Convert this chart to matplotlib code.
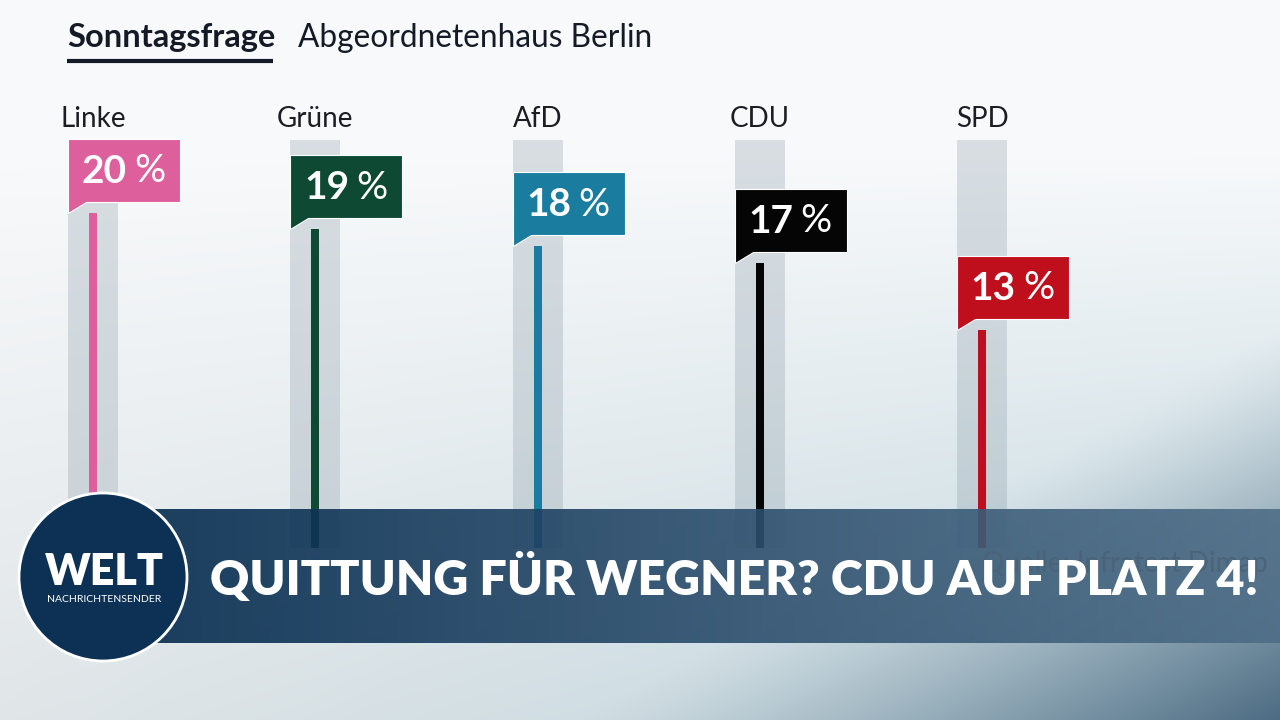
import numpy as np
import matplotlib
matplotlib.use('Agg')
import matplotlib.pyplot as plt
from matplotlib.patches import Polygon, Circle

# Data #
parties = ['Linke', 'Grüne', 'AfD', 'CDU', 'SPD']
values = [20, 19, 18, 17, 13]
colors = ['#dd5f9c', '#0e4a33', '#1a7d9f', '#050505', '#c00f1c']
track_max = 24.3  # height of the grey background tracks (in %).
title_left = 'Sonntagsfrage'
title_right = 'Abgeordnetenhaus Berlin'
headline = 'QUITTUNG FÜR WEGNER? CDU AUF PLATZ 4!'
source = 'Quelle: Infratest Dimap'

W, H = 1280, 720
FONT = 'Lato'

fig = plt.figure(figsize=(W / 100, H / 100), dpi=100)

# Background gradient #
bg = fig.add_axes([0, 0, 1, 1], zorder=0)
bg.set_axis_off()
yy, xx = np.mgrid[0:H, 0:W]
t = yy / H
s = xx / W
f = np.clip((t - 0.2) / 0.8, 0, 1)[..., None]
top_c = np.array([0.975, 0.98, 0.985])
bot_l = np.array([0.88, 0.90, 0.91])
bot_r = np.array([0.74, 0.83, 0.86])
bot_c = bot_l * (1 - s[..., None]) + bot_r * s[..., None]
img = top_c * (1 - f) + bot_c * f
d = (np.clip((s + t - 1.45) / 0.55, 0, 1) ** 1.3)[..., None]
dark_c = np.array([0.30, 0.42, 0.51])
img = img * (1 - d) + dark_c * d
bg.imshow(img, extent=(0, W, H, 0), aspect='auto', interpolation='bilinear')
bg.set_xlim(0, W)
bg.set_ylim(H, 0)

# Chart axes: 0 % at pixel row 548, 16.77 px per percent, columns 222.25 px apart from x=93 #
ax = fig.add_axes([0, 0, 1, 1], zorder=1)
ax.set_axis_off()
px_per_pt = 16.77
col_step = 222.25
ax.set_ylim(-(H - 548) / px_per_pt, 548 / px_per_pt)
ax.set_xlim(-93 / col_step, (W - 93) / col_step)
ax.patch.set_alpha(0)

x = np.arange(len(parties))
ax.bar(x, [track_max] * len(parties), width=50 / col_step, color='#8496a3', alpha=0.28, zorder=1)
ax.bar(x, values, width=8 / col_step, color=colors, zorder=2)

dx = 1 / col_step  # one pixel in x data units
dy = 1 / px_per_pt  # one pixel in y data units
for i, (name, v, c) in enumerate(zip(parties, values, colors)):
    ax.text(i, track_max + 21 * dy, name, ha='center', va='center', fontsize=20,
            family=FONT, color='#1b1f24', zorder=5)
    left = i - 25 * dx
    right = left + 112 * dx
    bottom = v + 11 * dy
    top = bottom + 63 * dy
    box = Polygon([(left, v), (left, top), (right, top), (right, bottom), (left + 18 * dx, bottom)],
                  closed=True, facecolor=c, edgecolor='white', linewidth=0.8, zorder=4)
    ax.add_patch(box)
    mid_x = (left + right) / 2
    mid_y = (bottom + top) / 2 - 1 * dy
    ax.text(mid_x + 3 * dx, mid_y, '%d' % v, ha='right', va='center',
            fontsize=28, fontweight='bold', family=FONT, color='white', zorder=5)
    ax.text(mid_x + 10 * dx, mid_y, '%', ha='left', va='center',
            fontsize=28, family=FONT, color='white', zorder=5)

# Header #
ov = fig.add_axes([0, 0, 1, 1], zorder=2)
ov.set_axis_off()
ov.patch.set_alpha(0)
ov.text(67, 38, title_left, ha='left', va='center', fontsize=23.5, fontweight='bold',
        family=FONT, color='#141b26')
ov.text(298, 38, title_right, ha='left', va='center', fontsize=22.8, family=FONT, color='#141b26')
ov.plot([67, 273], [61, 61], color='#141b26', lw=3, solid_capstyle='butt')

# Banner #
grad = np.linspace(0, 1, 256)[None, :, None]
left_c = np.array([0.02, 0.17, 0.31])
right_c = np.array([0.31, 0.43, 0.53])
banner = left_c * (1 - grad) + right_c * grad
banner = np.concatenate([banner, np.full((1, 256, 1), 0.9)], axis=2)
ov.imshow(banner, extent=(155, W, 643, 509), aspect='auto', interpolation='bilinear', zorder=3)
ov.set_xlim(0, W)
ov.set_ylim(H, 0)

ov.text(1268, 564, source, ha='right', va='center', fontsize=20, family=FONT,
        color='#4a6276', alpha=0.85, zorder=4)
ov.text(210, 578, headline, ha='left', va='center', fontsize=34.8, fontweight='heavy',
        family=FONT, color='white', zorder=5)

# WELT logo #
ov.add_patch(Circle((103, 577), 84, facecolor='#0c3154', edgecolor='white', linewidth=2, zorder=6))
ov.text(104, 572, 'WELT', ha='center', va='center', fontsize=31, fontweight='heavy',
        family=FONT, color='white', zorder=7)
ov.text(104, 599, 'NACHRICHTENSENDER', ha='center', va='center', fontsize=7.5,
        family=FONT, color='white', zorder=7)

plt.savefig('out.png', dpi=100)
